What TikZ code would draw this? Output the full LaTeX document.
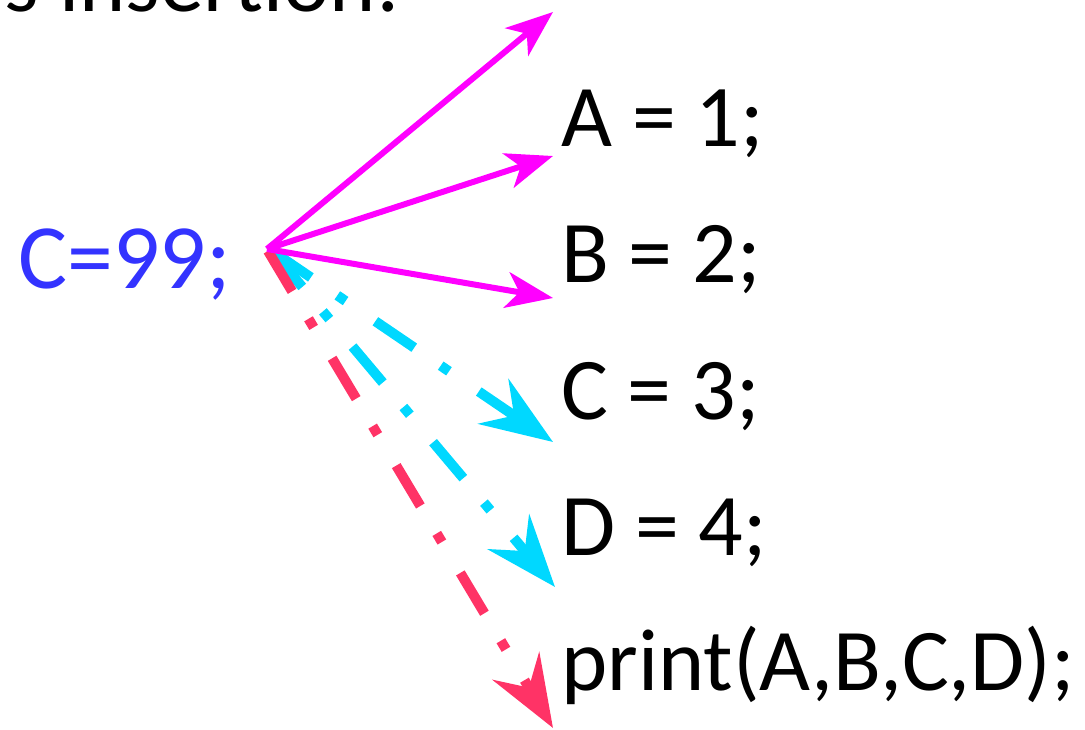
\documentclass[tikz,border=0pt]{standalone}
\usepackage{fontspec}
\setmainfont{Carlito}
\usetikzlibrary{arrows.meta}
\definecolor{mag}{RGB}{255,0,255}
\definecolor{cy}{RGB}{0,216,255}
\definecolor{rd}{RGB}{255,51,102}
\definecolor{bl}{RGB}{51,51,255}
\begin{document}
\begin{tikzpicture}[x=1pt,y=-1pt,
  txt/.style={inner sep=0pt, anchor=base west, font=\fontsize{88}{100}\selectfont},
  magarrow/.style={draw=mag, line width=6pt, -{Stealth[length=47pt,width=36pt,inset=13pt]}},
  dashdot/.style={line width=10pt, dash pattern=on 47pt off 32pt on 10pt off 36pt,
    -{Stealth[length=72pt,width=54pt,inset=25pt]}},
  cyarrow/.style={dashdot, draw=cy},
  rdarrow/.style={dashdot, draw=rd}]
\useasboundingbox (0,0) rectangle (1085,730);
\clip (0,0) rectangle (1085,730);
% texts
\node[txt, anchor=base east] (title) at (400,12) {s insertion:};
\node[txt, text=bl, font=\fontsize{92}{100}\selectfont] (c99) at (18,288) {C=99;};
\node[txt] (a) at (561,147) {A = 1;};
\node[txt] (b) at (561,283) {B = 2;};
\node[txt] (c) at (561,419) {C = 3;};
\node[txt] (d) at (561,555) {D = 4;};
\node[txt] (p) at (561,690) {print(A,B,C,D);};
% connector ends
\coordinate (o) at (267,249);
\coordinate (oc) at (272,251);
\coordinate (or) at (268,251);
\coordinate (t0) at (553,12);
\coordinate (t1) at (553,156);
\coordinate (t2) at (553,298);
\coordinate (t3) at (553,442);
\coordinate (t4) at (555,587);
\coordinate (t5) at (553,728);
% connectors
\draw[cyarrow] (oc) -- (t3);
\draw[cyarrow] (oc) -- (t4);
\draw[rdarrow] (or) -- (t5);
\draw[magarrow] (o) -- (t0);
\draw[magarrow] (o) -- (t1);
\draw[magarrow] (o) -- (t2);
\end{tikzpicture}
\end{document}
